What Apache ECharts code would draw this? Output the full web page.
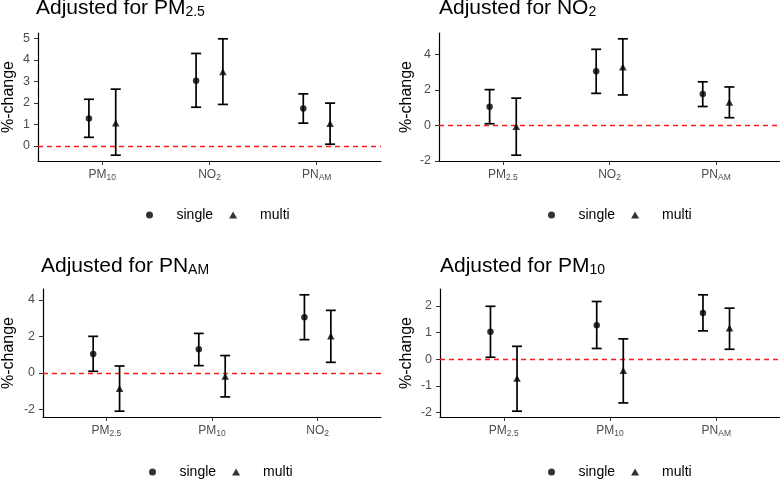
<!DOCTYPE html>
<html><head><meta charset="utf-8">
<script src="https://cdn.jsdelivr.net/npm/echarts@6/dist/echarts.min.js"></script>
<style>html,body{margin:0;padding:0;background:#fff}#c{width:780px;height:479px}</style>
</head><body><div id="c"></div>
<script>
// ---- data ----
const adjustedFor = ['PM2.5', 'NO2', 'PNAM', 'PM10'];

const p1Categories = ['PM10', 'NO2', 'PNAM'];
const p1SingleEst  = [1.27, 3.03, 1.74];
const p1SingleLow  = [0.40, 1.80, 1.06];
const p1SingleHigh = [2.17, 4.30, 2.42];
const p1MultiEst   = [1.07, 3.45, 1.04];
const p1MultiLow   = [-0.43, 1.93, 0.08];
const p1MultiHigh  = [2.64, 4.98, 1.99];
const p1YTicks     = [0, 1, 2, 3, 4, 5];

const p2Categories = ['PM2.5', 'NO2', 'PNAM'];
const p2SingleEst  = [1.05, 3.04, 1.76];
const p2SingleLow  = [0.09, 1.80, 1.06];
const p2SingleHigh = [2.01, 4.28, 2.45];
const p2MultiEst   = [-0.06, 3.29, 1.30];
const p2MultiLow   = [-1.68, 1.71, 0.43];
const p2MultiHigh  = [1.53, 4.87, 2.16];
const p2YTicks     = [-2, 0, 2, 4];

const p3Categories = ['PM2.5', 'PM10', 'NO2'];
const p3SingleEst  = [1.04, 1.29, 3.04];
const p3SingleLow  = [0.09, 0.40, 1.82];
const p3SingleHigh = [2.00, 2.16, 4.27];
const p3MultiEst   = [-0.85, -0.18, 2.02];
const p3MultiLow   = [-2.09, -1.31, 0.58];
const p3MultiHigh  = [0.38, 0.95, 3.42];
const p3YTicks     = [-2, 0, 2, 4];

const p4Categories = ['PM2.5', 'PM10', 'PNAM'];
const p4SingleEst  = [1.03, 1.27, 1.73];
const p4SingleLow  = [0.07, 0.40, 1.06];
const p4SingleHigh = [1.98, 2.16, 2.41];
const p4MultiEst   = [-0.72, -0.43, 1.17];
const p4MultiLow   = [-1.95, -1.64, 0.37];
const p4MultiHigh  = [0.48, 0.76, 1.91];
const p4YTicks     = [-2, -1, 0, 1, 2];

const seriesNames = ['single', 'multi'];
const yAxisTitle = '%-change';

// ---- layout / style ----
const FONT = 'Liberation Sans, Arial, Helvetica, sans-serif';
const panels = [
  {cats: p1Categories, se: p1SingleEst, sl: p1SingleLow, sh: p1SingleHigh, me: p1MultiEst, ml: p1MultiLow, mh: p1MultiHigh, ticks: p1YTicks,
   grid: {left: 36, top: 33, width: 345, height: 128}, titleTop: -4, legendLeft: 146, legendTop: 208, nameGap: 21},
  {cats: p2Categories, se: p2SingleEst, sl: p2SingleLow, sh: p2SingleHigh, me: p2MultiEst, ml: p2MultiLow, mh: p2MultiHigh, ticks: p2YTicks,
   grid: {left: 439, top: 33, width: 341, height: 128}, titleTop: -4, legendLeft: 548, legendTop: 208, nameGap: 24},
  {cats: p3Categories, se: p3SingleEst, sl: p3SingleLow, sh: p3SingleHigh, me: p3MultiEst, ml: p3MultiLow, mh: p3MultiHigh, ticks: p3YTicks,
   grid: {left: 41, top: 289, width: 340, height: 128}, titleTop: 254, legendLeft: 149, legendTop: 465, nameGap: 26},
  {cats: p4Categories, se: p4SingleEst, sl: p4SingleLow, sh: p4SingleHigh, me: p4MultiEst, ml: p4MultiLow, mh: p4MultiHigh, ticks: p4YTicks,
   grid: {left: 440, top: 289, width: 340, height: 128}, titleTop: 254, legendLeft: 548, legendTop: 465, nameGap: 25}
];

const DODGE = 0.125, CAP = 0.047;

const subMap = {
  'PM2.5': ['PM', '2.5'], 'PM10': ['PM', '10'], 'NO2': ['NO', '2'], 'PNAM': ['PN', 'AM']
};
function tickFmt(name) { const p = subMap[name]; return '{m|' + p[0] + '}{s|' + p[1] + '}'; }
function titleFmt(name) { const p = subMap[name]; return '{m|Adjusted for ' + p[0] + '}{s|' + p[1] + '}'; }

const tickRich = {
  m: {fontSize: 12, color: '#4d4d4d', lineHeight: 14, fontFamily: FONT},
  s: {fontSize: 8.5, color: '#4d4d4d', lineHeight: 9, padding: [6, 0, 0, 0], fontFamily: FONT}
};
const titleRich = {
  m: {fontSize: 21, color: '#000', lineHeight: 24, fontWeight: 'normal', fontFamily: FONT},
  s: {fontSize: 14, color: '#000', lineHeight: 15, fontWeight: 'normal', padding: [8, 0, 0, 0], fontFamily: FONT}
};

function errRender(params, api) {
  const x = api.value(0), lo = api.value(1), hi = api.value(2);
  const a = api.coord([x, lo]), b = api.coord([x, hi]);
  const al = api.coord([x - CAP, lo]), ar = api.coord([x + CAP, lo]);
  const bl = api.coord([x - CAP, hi]), br = api.coord([x + CAP, hi]);
  const st = {stroke: '#000', lineWidth: 1.7};
  return {type: 'group', children: [
    {type: 'line', shape: {x1: a[0], y1: a[1], x2: b[0], y2: b[1]}, style: st},
    {type: 'line', shape: {x1: al[0], y1: al[1], x2: ar[0], y2: ar[1]}, style: st},
    {type: 'line', shape: {x1: bl[0], y1: bl[1], x2: br[0], y2: br[1]}, style: st}
  ]};
}

const option = {
  backgroundColor: '#fff',
  animation: false,
  title: [], grid: [], xAxis: [], yAxis: [], legend: [], series: []
};

panels.forEach((p, i) => {
  const allLow = p.sl.concat(p.ml, [0]), allHigh = p.sh.concat(p.mh, [0]);
  const lo = Math.min.apply(null, allLow), hi = Math.max.apply(null, allHigh);
  const pad = (hi - lo) * 0.05;
  option.title.push({text: titleFmt(adjustedFor[i]), left: p.grid.left, top: p.titleTop, padding: 0,
    textStyle: {rich: titleRich, fontWeight: 'normal', fontFamily: FONT}});
  option.grid.push(Object.assign({containLabel: false}, p.grid));
  option.xAxis.push({
    type: 'value', gridIndex: i, min: 0.4, max: 3.6,
    splitLine: {show: false},
    axisLine: {show: true, onZero: false, lineStyle: {color: '#000', width: 1.2}},
    axisTick: {show: true, customValues: [1, 2, 3], length: 4, lineStyle: {color: '#333', width: 1}},
    axisLabel: {customValues: [1, 2, 3], margin: 7, rich: tickRich,
      formatter: v => tickFmt(p.cats[Math.round(v) - 1])}
  });
  option.yAxis.push({
    type: 'value', gridIndex: i, min: lo - pad, max: hi + pad,
    name: yAxisTitle, nameLocation: 'middle', nameGap: p.nameGap,
    nameTextStyle: {fontSize: 16, color: '#000', fontFamily: FONT},
    splitLine: {show: false},
    axisLine: {show: true, onZero: false, lineStyle: {color: '#000', width: 1.2}},
    axisTick: {show: true, customValues: p.ticks, length: 4, lineStyle: {color: '#333', width: 1}},
    axisLabel: {customValues: p.ticks, margin: 8, fontSize: 12.5, color: '#4d4d4d', fontFamily: FONT}
  });
  option.legend.push({
    left: p.legendLeft, top: p.legendTop, orient: 'horizontal', padding: 0,
    itemWidth: 8, itemHeight: 7, itemGap: 16, selectedMode: false,
    textStyle: {fontSize: 14, color: '#000', fontFamily: FONT, padding: [0, 0, 0, 18]},
    data: [{name: seriesNames[0], icon: 'circle'}, {name: seriesNames[1], icon: 'triangle'}]
  });
  const sErr = p.cats.map((c, k) => [k + 1 - DODGE, p.sl[k], p.sh[k]]);
  const mErr = p.cats.map((c, k) => [k + 1 + DODGE, p.ml[k], p.mh[k]]);
  option.series.push({
    type: 'custom', name: 'err', xAxisIndex: i, yAxisIndex: i, renderItem: errRender,
    encode: {x: 0, y: [1, 2]}, data: sErr.concat(mErr), z: 2, silent: true,
    markLine: {silent: true, symbol: 'none', label: {show: false},
      lineStyle: {color: '#ff1a1a', type: [5, 4], width: 1.3}, data: [{yAxis: 0}], z: 1}
  });
  option.series.push({
    type: 'scatter', name: seriesNames[0], xAxisIndex: i, yAxisIndex: i,
    symbol: 'circle', symbolSize: 6.5, itemStyle: {color: '#000'}, z: 3,
    data: p.se.map((v, k) => [k + 1 - DODGE, v])
  });
  option.series.push({
    type: 'scatter', name: seriesNames[1], xAxisIndex: i, yAxisIndex: i,
    symbol: 'triangle', symbolSize: [7.5, 7], itemStyle: {color: '#000'}, z: 3,
    data: p.me.map((v, k) => [k + 1 + DODGE, v])
  });
});

const chart = echarts.init(document.getElementById('c'), null, {renderer: 'canvas'});
chart.setOption(option);
</script></body></html>
